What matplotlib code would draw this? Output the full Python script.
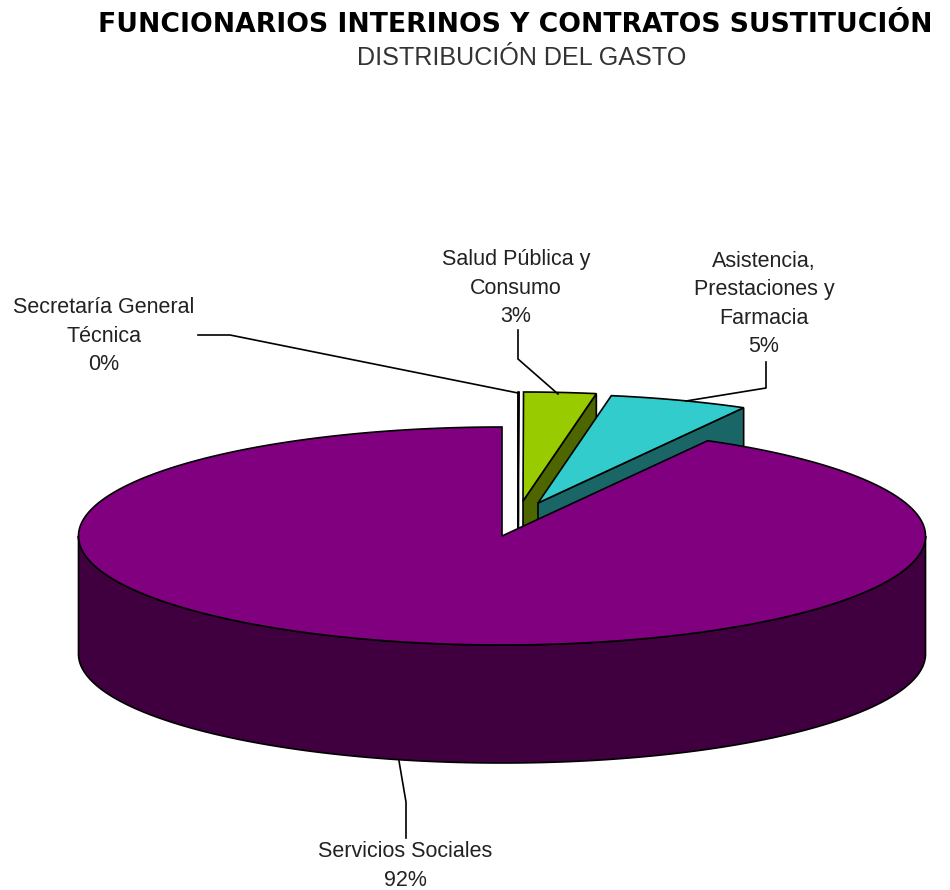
import numpy as np
import matplotlib
matplotlib.use("Agg")
import matplotlib.pyplot as plt

title = "FUNCIONARIOS INTERINOS Y CONTRATOS SUSTITUCIÓN"
subtitle = "DISTRIBUCIÓN DEL GASTO"

# order is clockwise starting from the top of the pie
categories = ["Secretaría General\nTécnica", "Salud Pública y\nConsumo",
              "Asistencia,\nPrestaciones y\nFarmacia", "Servicios Sociales"]
values = [0.02, 2.75, 5.3, 91.93]
pct_labels = ["0%", "3%", "5%", "92%"]

top_colors = ["#ffffff", "#99cc00", "#33cccc", "#800080"]
side_colors = ["#808080", "#4d6600", "#1a6666", "#400040"]

# pie geometry, in pixels
cx, cy = 502, 536
rx, ry = 423.5, 109
depth = 118
explode_dx = [16, 21, 36, 0]
explode_dy = [-35, -35, -33, 0]

label_x = [104, 516, 764, 405]
label_y = [336, 288, 304, 866]

leaders = [
    ([198, 230, 518], [335, 335, 393]),
    ([518, 518, 558], [330, 359, 394]),
    ([766, 766, 686], [362, 388, 401]),
    ([399, 406, 406], [761, 802, 838]),
]


def ell(a, ox=0, oy=0):
    # a is clockwise from 12 o'clock, in radians
    return cx + ox + rx * np.sin(a), cy + oy - ry * np.cos(a)


fig = plt.figure(figsize=(9.5, 8.9), dpi=100)
ax = fig.add_axes([0, 0, 1, 1])
ax.set_xlim(0, 950)
ax.set_ylim(890, 0)
ax.axis("off")

plt.rcParams["font.family"] = "Liberation Sans"

ends = np.cumsum(values) / np.sum(values) * 2 * np.pi
starts = np.r_[0, ends[:-1]]

# exploded slices first, the big slice covers them
for i in range(3):
    ox, oy = explode_dx[i], explode_dy[i]
    a = np.linspace(starts[i], ends[i], 40)
    ex, ey = ell(ends[i], ox, oy)
    ax0, ay0 = cx + ox, cy + oy
    ax.fill([ax0, ex, ex, ax0], [ay0, ey, ey + depth, ay0 + depth],
            facecolor=side_colors[i], edgecolor="black", lw=1.2, zorder=2 + i)
    xs, ys = ell(a, ox, oy)
    ax.fill(np.r_[ax0, xs], np.r_[ay0, ys], facecolor=top_colors[i],
            edgecolor="black", lw=1.2, zorder=2 + i)

# big slice: rim then top
a = np.linspace(np.pi / 2, 3 * np.pi / 2, 200)
xs, ys = ell(a)
ax.fill(np.r_[xs, xs[::-1]], np.r_[ys, ys[::-1] + depth],
        facecolor=side_colors[3], edgecolor="black", lw=1.2, zorder=6)
a = np.linspace(starts[3], ends[3], 400)
xs, ys = ell(a)
ax.fill(np.r_[cx, xs], np.r_[cy, ys], facecolor=top_colors[3],
        edgecolor="black", lw=1.2, zorder=7)

for lx, ly in leaders:
    ax.plot(lx, ly, color="black", lw=1.2, zorder=8)

for name, pct, x, y in zip(categories, pct_labels, label_x, label_y):
    ax.text(x, y, name + "\n" + pct, ha="center", va="center", fontsize=15.5,
            linespacing=1.46, color="#222222", family="Liberation Sans")

ax.text(515, 32, title, ha="center", va="baseline", fontsize=19.2,
        fontweight="bold", family="DejaVu Sans", color="black")
ax.text(521.5, 65, subtitle, ha="center", va="baseline", fontsize=18.1,
        color="#333333", family="Liberation Sans")

fig.savefig("out.png", dpi=100)
